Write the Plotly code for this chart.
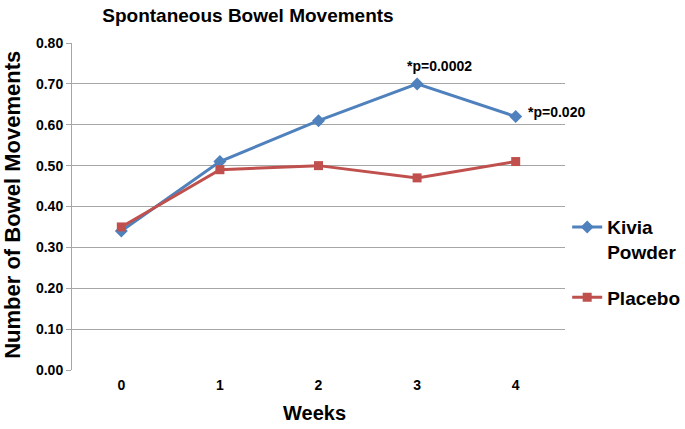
import plotly.graph_objects as go

weeks = ["0", "1", "2", "3", "4"]
kivia = [0.34, 0.51, 0.61, 0.70, 0.62]
placebo = [0.35, 0.49, 0.50, 0.47, 0.51]
y_ticks = [0.0, 0.1, 0.2, 0.3, 0.4, 0.5, 0.6, 0.7, 0.8]

FONT = "Liberation Sans, Arial, sans-serif"

fig = go.Figure()
fig.add_trace(go.Scatter(
    x=weeks, y=kivia, name="Kivia<br>Powder", mode="lines+markers", legendgroup="k",
    line=dict(color="#4F81BD", width=3),
    marker=dict(symbol="diamond", size=10, color="#4F81BD"),
))
fig.add_trace(go.Scatter(
    x=weeks, y=placebo, name="Placebo", mode="lines+markers", legendgroup="p",
    line=dict(color="#C0504D", width=3),
    marker=dict(symbol="square", size=9, color="#C0504D"),
))

fig.add_annotation(x=weeks[3], y=kivia[3], text="*p=0.0002", showarrow=False,
                   xshift=22, yshift=18,
                   font=dict(size=14, color="black", family=FONT, weight="bold"))
fig.add_annotation(x=weeks[4], y=kivia[4], text="*p=0.020", showarrow=False,
                   xanchor="left", xshift=10, yshift=5,
                   font=dict(size=14, color="black", family=FONT, weight="bold"))

# axis titles
fig.add_annotation(xref="paper", yref="paper", x=-0.1197, y=0.505, text="Number of Bowel Movements",
                   textangle=-90, showarrow=False, xanchor="center", yanchor="middle",
                   font=dict(size=22, color="black", family=FONT, weight="bold"))
fig.add_annotation(xref="paper", yref="paper", x=0.491, y=-0.1315, text="Weeks",
                   showarrow=False, xanchor="center", yanchor="middle",
                   font=dict(size=20, color="black", family=FONT, weight="bold"))

fig.update_layout(
    width=685, height=429,
    margin=dict(l=72, r=120, t=43, b=59, autoexpand=False),
    paper_bgcolor="white", plot_bgcolor="white",
    font=dict(family=FONT, color="black"),
    title=dict(text="Spontaneous Bowel Movements", x=0.362, xanchor="center", xref="container",
               y=0.965, yref="container", yanchor="middle",
               font=dict(size=19, family=FONT, color="black", weight="bold")),
    xaxis=dict(
        type="category", range=[-0.5, 4.5], showgrid=False, zeroline=False,
        showline=False, ticks="", automargin=False, ticklabelstandoff=5,
        tickfont=dict(size=14, family=FONT, color="black", weight="bold"),
    ),
    yaxis=dict(
        range=[0, 0.8], tickvals=y_ticks, tickformat=".2f", automargin=False,
        showgrid=True, gridcolor="#A6A6A6", gridwidth=1,
        showline=True, linecolor="#A6A6A6", linewidth=1,
        zeroline=False, ticks="outside", ticklen=5, tickcolor="#A6A6A6",
        tickfont=dict(size=14, family=FONT, color="black", weight="bold"),
    ),
    legend=dict(x=0.828, y=0.515, xref="container", yref="container",
                xanchor="left", yanchor="top", valign="top",
                font=dict(size=19, family=FONT, color="black", weight="bold"),
                tracegroupgap=18, itemwidth=30, bgcolor="rgba(0,0,0,0)"),
    showlegend=True,
)

fig.write_html("out.html", config={"displayModeBar": False},
               post_script="document.body.style.margin='0';")
